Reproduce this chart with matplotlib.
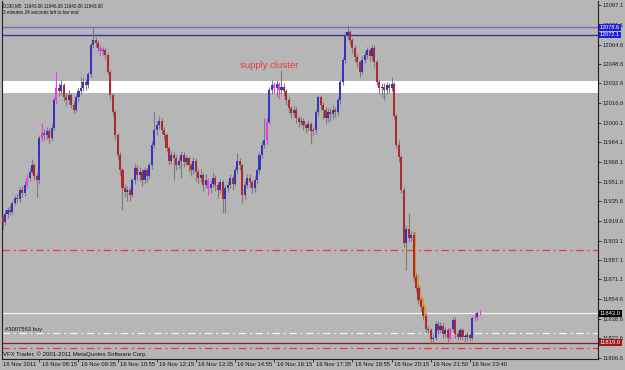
import matplotlib
matplotlib.use('Agg')
import matplotlib.pyplot as plt
import numpy as np
from matplotlib.transforms import blended_transform_factory

# ---------------- data (DJ30, M5, 16 Nov 2011) ----------------
opens = [11918,11922,11918,11925,11928,11927,11934,11938,11937,11945,
         11942,11949,11955,11960,11965,11956,11953,11988,11992,11990,
         11993,11988,11996,12019,12029,12026,12031,12021,12019,12023,
         12015,12011,12021,12026,12029,12034,12031,12040,12064,12068,
         12066,12062,12059,12060,12056,12042,12023,12009,11990,11974,
         11961,11946,11943,11945,11941,11953,11963,11957,11960,11953,
         11961,11956,11965,11982,11994,11998,12002,11994,11990,11979,
         11969,11974,11971,11965,11969,11974,11968,11971,11965,11961,
         11969,11960,11955,11957,11949,11953,11946,11950,11955,11949,
         11945,11951,11937,11946,11949,11955,11950,11961,11969,11965,
         11941,11949,11955,11951,11946,11953,11961,11974,11982,11986,
         12001,12027,12031,12029,12032,12027,12030,12026,12019,12012,
         12008,12011,12004,12001,12002,11998,11996,11999,11993,11994,
         12009,12021,12015,12011,12004,12009,12007,12011,12009,12019,
         12034,12052,12072,12075,12068,12062,12054,12050,12042,12052,
         12056,12060,12055,12062,12050,12034,12029,12030,12027,12031,
         12029,12032,12006,11982,11972,11945,11901,11913,11905,11908,
         11873,11864,11854,11848,11841,11830,11829,11822,11823,11834,
         11829,11833,11826,11829,11823,11830,11838,11826,11824,11829,
         11824,11824,11825,11823,11839,11840,11843]
highs = [11925,11924,11928,11931,11932,11936,11941,11942,11947,11948,
         11952,11958,11963,11970,11967,11959,11990,12000,11995,11997,
         11996,11999,12021,12043,12033,12036,12033,12025,12027,12025,
         12018,12024,12029,12038,12037,12036,12042,12066,12079,12071,
         12068,12064,12063,12062,12058,12044,12025,12011,11992,11976,
         11963,11950,11948,11947,11955,11966,11965,11964,11962,11964,
         11963,11968,11985,12010,12002,12006,12004,11997,11992,11981,
         11977,11976,11974,11972,11977,11976,11974,11973,11967,11972,
         11971,11962,11962,11959,11958,11955,11953,11960,11957,11951,
         11954,11953,11949,11952,11958,11957,11964,11975,11971,11967,
         11952,11958,11958,11953,11956,11963,11976,11985,12004,12004,
         12030,12035,12034,12035,12034,12044,12033,12028,12021,12014,
         12014,12013,12006,12005,12004,12000,12002,12001,11997,12011,
         12023,12023,12017,12013,12012,12012,12015,12013,12021,12036,
         12054,12075,12081,12077,12070,12064,12057,12052,12055,12059,
         12063,12062,12064,12064,12052,12036,12033,12033,12034,12033,
         12038,12034,12008,11986,11974,11947,11915,11926,11911,11910,
         11876,11867,11857,11850,11843,11833,11831,11826,11837,11837,
         11836,11835,11832,11831,11832,11840,11840,11829,11831,11831,
         11827,11828,11827,11841,11843,11845,11846]
lows = [11914,11913,11916,11922,11924,11925,11932,11934,11935,11939,
        11940,11946,11952,11958,11953,11939,11950,11985,11986,11987,
        11983,11985,11994,12016,12022,12023,12018,12014,12016,12012,
        12008,12009,12018,12024,12026,12027,12029,12038,12062,12063,
        12059,12055,12056,12053,12040,12020,12006,11987,11970,11957,
        11928,11939,11936,11936,11939,11950,11953,11952,11948,11950,
        11951,11954,11962,11979,11990,11995,11991,11986,11976,11965,
        11966,11953,11961,11962,11955,11964,11965,11960,11956,11958,
        11952,11950,11951,11944,11946,11941,11942,11947,11944,11938,
        11942,11926,11926,11943,11946,11945,11948,11958,11961,11934,
        11937,11946,11947,11942,11943,11950,11958,11971,11979,11983,
        11999,12024,12025,12021,12020,12024,12022,12015,12008,12004,
        12005,12000,11997,11998,11994,11992,11993,11983,11989,11991,
        12006,12011,12003,11999,12001,12002,12003,12005,12006,12016,
        12031,12049,12068,12064,12058,12050,12046,12038,12040,12049,
        12053,12051,12052,12046,12031,12024,12021,12019,12024,12025,
        12026,12003,11979,11968,11942,11898,11879,11902,11903,11870,
        11861,11851,11845,11838,11827,11826,11819,11819,11821,11826,
        11827,11823,11824,11819,11821,11828,11823,11821,11822,11821,
        11818,11821,11820,11821,11837,11838,11842]
closes = [11922,11918,11925,11928,11927,11934,11938,11937,11945,11942,
          11949,11955,11960,11965,11956,11953,11988,11992,11990,11993,
          11988,11996,12019,12029,12026,12031,12021,12019,12023,12015,
          12011,12021,12026,12029,12034,12031,12040,12064,12068,12066,
          12062,12059,12060,12056,12042,12023,12009,11990,11974,11961,
          11946,11943,11945,11941,11953,11963,11957,11960,11953,11961,
          11956,11965,11982,11994,11998,12002,11994,11990,11979,11969,
          11974,11971,11965,11969,11974,11968,11971,11965,11961,11969,
          11960,11955,11957,11949,11953,11946,11950,11955,11949,11945,
          11951,11937,11946,11949,11955,11950,11961,11969,11965,11941,
          11949,11955,11951,11946,11953,11961,11974,11982,11986,12001,
          12027,12031,12029,12032,12027,12030,12026,12019,12012,12008,
          12011,12004,12001,12002,11998,11996,11999,11993,11994,12009,
          12021,12015,12011,12004,12009,12007,12011,12009,12019,12034,
          12052,12072,12075,12068,12062,12054,12050,12042,12052,12056,
          12060,12055,12062,12050,12034,12029,12030,12027,12031,12029,
          12032,12006,11982,11972,11945,11901,11913,11905,11908,11873,
          11864,11854,11848,11841,11830,11829,11822,11823,11834,11829,
          11833,11826,11829,11823,11830,11838,11826,11824,11829,11824,
          11824,11825,11823,11839,11840,11843,11843]
magenta_bars = [11, 17, 23, 41, 85, 109, 112, 114, 184, 194, 196]
orange_bars = [169, 170, 171, 172, 173]

time_tick_bars = [16, 32, 48, 64, 80, 96, 112, 128, 144, 160, 176, 192]
time_tick_labels = ["16 Nov 08:15", "16 Nov 09:35", "16 Nov 10:55", "16 Nov 12:15",
                    "16 Nov 13:35", "16 Nov 14:55", "16 Nov 16:15", "16 Nov 17:35",
                    "16 Nov 18:55", "16 Nov 20:15", "16 Nov 21:50", "16 Nov 23:40"]
first_label = "16 Nov 2011"
price_ticks = [12097.1, 12081.1, 12064.6, 12048.6, 12032.6, 12016.6, 12000.1,
               11984.1, 11968.1, 11951.6, 11935.6, 11919.6, 11903.1, 11887.1,
               11871.1, 11854.6, 11838.6, 11822.6, 11806.6]

resistance_levels = [12078.8, 12072.5]
resistance_labels = ["12078.6", "12072.1"]
supply_zone = (12024.5, 12034.4)
red_levels = [11895.3, 11814.8]
bid_price = 11843.0
order_price = 11826.7
stop_price = 11819.0

# ---------------- styling ----------------
BG = '#b6b6b6'
W, H = 625, 370
fig = plt.figure(figsize=(W / 100, H / 100), dpi=100, facecolor=BG)
ax = fig.add_axes([2 / W, 11 / H, 596 / W, 358 / H], facecolor=BG)
FONT = ['Liberation Sans', 'DejaVu Sans']

n = len(closes)
idx = np.arange(n)
o = np.array(opens, float); c = np.array(closes, float)
hi = np.array(highs, float); lo = np.array(lows, float)

# supply zone band and horizontal levels
ax.axhspan(supply_zone[0], supply_zone[1], color='white', lw=0, zorder=1)
ax.axhline(resistance_levels[0], color='#6c6cd0', lw=1.0, zorder=2)
ax.axhline(resistance_levels[1], color='#3434a8', lw=1.0, zorder=2)
for lv in red_levels:
    ax.axhline(lv, color='#e83838', lw=0.9, dashes=(6, 3, 1.5, 3), zorder=2)
ax.axhline(bid_price, color='#f4f4f4', lw=0.9, zorder=2)
ax.axhline(order_price, color='#f4f4f4', lw=0.9, dashes=(6, 3, 1.5, 3), zorder=2)
ax.axhline(stop_price, color='#8a2020', lw=0.9, zorder=2)

# candles
colors = np.where(c >= o, '#3434c0', '#b02a2a').astype(object)
wick_colors = np.array(['#7c7c7c'] * n, dtype=object)
for m in magenta_bars:
    colors[m] = '#e83ce8'
    wick_colors[m] = '#e83ce8'

# orange overlay on the steep decline
ob = np.array(orange_bars)
ax.bar(ob + 0.5, np.abs(c[ob] - o[ob]) + 4, bottom=np.minimum(o[ob], c[ob]) - 2,
       width=1.3, color='#d8981c', alpha=0.85, zorder=3, linewidth=0)

ax.vlines(idx, lo, hi, colors=list(wick_colors), lw=0.8, zorder=4)
body_h = np.maximum(np.abs(c - o), 0.6)
ax.bar(idx, body_h, bottom=np.minimum(o, c), width=0.85, color=list(colors),
       linewidth=0, zorder=5)

# axes limits (bar spacing ~2.45 px)
ax.set_xlim(0.74, 244.4)
ax.set_ylim(11805.5, 12100.5)

ax.spines['top'].set_visible(False)
for s in ['left', 'right', 'bottom']:
    ax.spines[s].set_color('#202020')
    ax.spines[s].set_linewidth(0.8)

ax.yaxis.tick_right()
ax.set_yticks(price_ticks)
ax.set_yticklabels([f"{v:.1f}" for v in price_ticks], fontsize=4.2,
                   family=FONT, color='#101010')
ax.tick_params(axis='y', length=2, width=0.6, pad=1.5, colors='#202020')

ax.set_xticks(time_tick_bars)
ax.set_xticklabels([])
ax.tick_params(axis='x', length=2.5, width=0.6, colors='#202020')

tb = blended_transform_factory(ax.transData, fig.transFigure)
fig.text(3 / W, 1 - 365 / H, first_label, fontsize=4.2, family=FONT,
         va='center', ha='left', color='#101010')
for b, lab in zip(time_tick_bars, time_tick_labels):
    ax.text(b + 1.0, 1 - 365 / H, lab, transform=tb, fontsize=4.2, family=FONT,
            va='center', ha='left', color='#101010', clip_on=False)

# price boxes on the right axis
by = blended_transform_factory(fig.transFigure, ax.transData)
for lv, lab in zip(resistance_levels, resistance_labels):
    fig.text(600 / W, lv, lab, transform=by, fontsize=4.0, family=FONT, color='white',
             va='center', ha='left',
             bbox=dict(boxstyle='square,pad=0.12', fc='#2020d8', ec='none'))
fig.text(600 / W, bid_price, f"{bid_price:.1f}", transform=by, fontsize=4.2, family=FONT,
         color='white', va='center', ha='left',
         bbox=dict(boxstyle='square,pad=0.2', fc='#000000', ec='none'))
fig.text(600 / W, stop_price, f"{stop_price:.1f}", transform=by, fontsize=4.2, family=FONT,
         color='white', va='center', ha='left',
         bbox=dict(boxstyle='square,pad=0.2', fc='#a01818', ec='none'))

# texts
fig.text(3 / W, 1 - 6 / H, "DJ30,M5  11843.00 11846.00 11842.00 11843.00",
         fontsize=3.3, family=FONT, color='#101010', va='center', ha='left')
fig.text(3 / W, 1 - 12.5 / H, "3 minutes 34 seconds left to bar end",
         fontsize=3.3, family=FONT, color='#101010', va='center', ha='left')
fig.text(240 / W, 1 - 66 / H, "supply cluster", fontsize=6.8, family=FONT,
         color='#e83c3c', va='center', ha='left')
fig.text(5 / W, 1 - 330 / H, "#3007563 buy", fontsize=4.2, family=FONT,
         color='#101010', va='center', ha='left')
fig.text(3 / W, 1 - 354 / H, "VFX Trader, \u00a9 2001-2011 MetaQuotes Software Corp.",
         fontsize=4.3, family=FONT, color='#101010', va='center', ha='left')

fig.savefig('out.png', dpi=100, facecolor=BG)
